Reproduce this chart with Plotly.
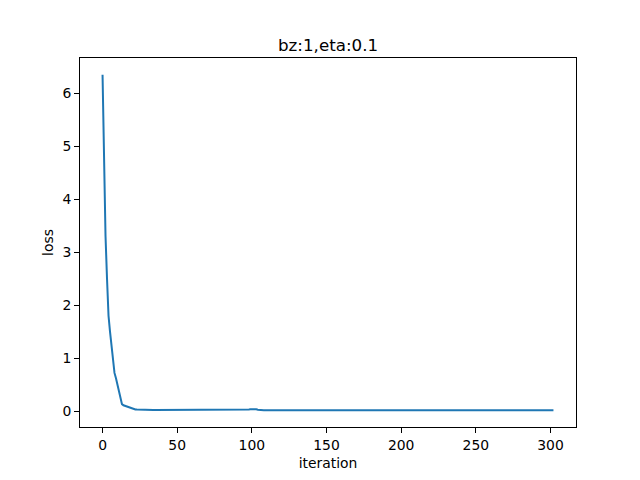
import plotly.graph_objects as go

title_text = "bz:1,eta:0.1"
x_label = "iteration"
y_label = "loss"

loss = [
    6.35, 4.8, 3.3, 2.5, 1.8, 1.5, 1.2, 0.95, 0.72, 0.62,
    0.5, 0.35, 0.22, 0.13, 0.11, 0.10, 0.095, 0.085, 0.07, 0.05,
    0.04, 0.035, 0.03, 0.028, 0.026, 0.025, 0.024, 0.023, 0.022, 0.022,
    0.021, 0.021, 0.020, 0.020, 0.021, 0.020, 0.020, 0.019, 0.020, 0.020,
    0.020, 0.019, 0.020, 0.020, 0.019, 0.020, 0.019, 0.019, 0.020, 0.020,
    0.019, 0.019, 0.020, 0.019, 0.018, 0.019, 0.020, 0.022, 0.021, 0.019,
    0.018, 0.019, 0.019, 0.018, 0.019, 0.020, 0.019, 0.019, 0.020, 0.021,
    0.022, 0.024, 0.023, 0.021, 0.020, 0.019, 0.019, 0.018, 0.019, 0.019,
    0.019, 0.019, 0.020, 0.019, 0.019, 0.020, 0.020, 0.021, 0.021, 0.022,
    0.022, 0.023, 0.024, 0.025, 0.026, 0.027, 0.029, 0.030, 0.031, 0.033,
    0.036, 0.038, 0.040, 0.035, 0.025, 0.020, 0.018, 0.018, 0.017, 0.017,
    0.017, 0.018, 0.017, 0.017, 0.018, 0.017, 0.017, 0.018, 0.018, 0.019,
    0.020, 0.021, 0.022, 0.023, 0.024, 0.023, 0.021, 0.020, 0.019, 0.019,
    0.018, 0.018, 0.018, 0.017, 0.017, 0.018, 0.018, 0.017, 0.017, 0.018,
    0.018, 0.019, 0.020, 0.019, 0.018, 0.018, 0.017, 0.017, 0.018, 0.018,
    0.018, 0.017, 0.017, 0.017, 0.017, 0.018, 0.018, 0.017, 0.017, 0.017,
    0.017, 0.017, 0.018, 0.018, 0.017, 0.017, 0.017, 0.018, 0.018, 0.017,
    0.017, 0.017, 0.018, 0.018, 0.018, 0.017, 0.017, 0.017, 0.018, 0.018,
    0.018, 0.018, 0.019, 0.019, 0.018, 0.018, 0.018, 0.019, 0.020, 0.021,
    0.020, 0.019, 0.019, 0.020, 0.021, 0.022, 0.023, 0.024, 0.025, 0.026,
    0.027, 0.024, 0.020, 0.018, 0.017, 0.017, 0.017, 0.017, 0.018, 0.018,
    0.017, 0.017, 0.017, 0.017, 0.018, 0.018, 0.018, 0.017, 0.017, 0.017,
    0.017, 0.017, 0.018, 0.018, 0.017, 0.017, 0.017, 0.018, 0.018, 0.017,
    0.017, 0.017, 0.017, 0.017, 0.017, 0.018, 0.018, 0.018, 0.017, 0.017,
    0.017, 0.017, 0.018, 0.018, 0.018, 0.018, 0.019, 0.019, 0.018, 0.018,
    0.018, 0.019, 0.020, 0.021, 0.022, 0.023, 0.024, 0.025, 0.025, 0.025,
    0.024, 0.024, 0.023, 0.022, 0.021, 0.020, 0.019, 0.019, 0.018, 0.018,
    0.018, 0.018, 0.019, 0.019, 0.018, 0.018, 0.018, 0.017, 0.017, 0.017,
    0.017, 0.017, 0.017, 0.017, 0.017, 0.017, 0.017, 0.017, 0.017, 0.017,
    0.017, 0.017, 0.016, 0.016, 0.016, 0.016, 0.016, 0.016, 0.016, 0.016,
    0.016, 0.016, 0.016,
]
iterations = list(range(len(loss)))

x_ticks = [0, 50, 100, 150, 200, 250, 300]
y_ticks = [0, 1, 2, 3, 4, 5, 6]

fig = go.Figure()
fig.add_trace(go.Scatter(
    x=iterations, y=loss, mode="lines",
    line=dict(color="#1f77b4", width=2),
    showlegend=False,
))

font = dict(family="DejaVu Sans", size=13.9, color="black")
# the page body has an 8px margin, so margins are shifted by 8px to compensate
fig.update_layout(
    width=640, height=480,
    margin=dict(l=72, r=72, t=49.6, b=60.8, pad=0),
    paper_bgcolor="white", plot_bgcolor="white",
    font=font,
    annotations=[dict(
        text=title_text, x=0.5, y=1, xref="paper", yref="paper",
        xanchor="center", yanchor="bottom", yshift=1, showarrow=False,
        font=dict(family="DejaVu Sans", size=16.7, color="black"),
    )],
)
fig.update_xaxes(
    range=[-15.1, 317.1], tickvals=x_ticks, ticks="outside", ticklen=4.9,
    tickwidth=1.1, tickcolor="black", showline=True, linecolor="black",
    linewidth=1.1, mirror=True, showgrid=False, zeroline=False,
    title=dict(text=x_label, standoff=6, font=font),
)
fig.update_yaxes(
    range=[-0.301, 6.667], tickvals=y_ticks, ticks="outside", ticklen=4.9,
    tickwidth=1.1, tickcolor="black", showline=True, linecolor="black",
    linewidth=1.1, mirror=True, showgrid=False, zeroline=False,
    title=dict(text=y_label, standoff=5, font=font),
)

fig.write_html("out.html")
